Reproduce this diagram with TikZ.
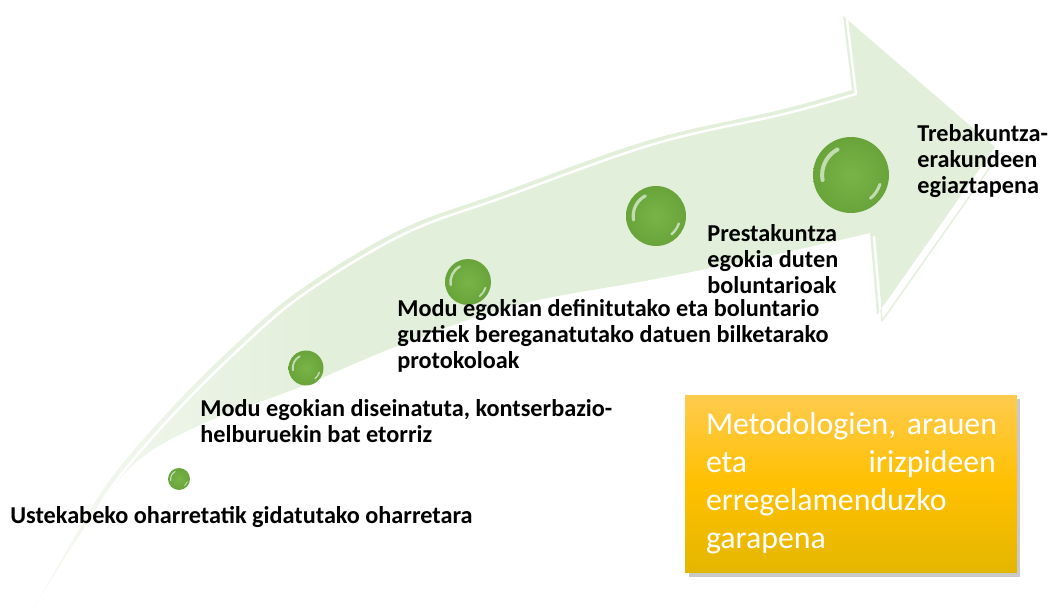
\documentclass[tikz,border=0pt]{standalone}
\usepackage{fontspec}
\setmainfont{Carlito}
\usetikzlibrary{shadows}
\definecolor{arrowgreen}{HTML}{E2EFDA}
\definecolor{arrowpale}{HTML}{F5F9F2}
\definecolor{ballgreen}{HTML}{68A43A}
\definecolor{ballhi}{HTML}{78B447}
\definecolor{boxtop}{HTML}{FFCB4F}
\definecolor{boxmid}{HTML}{FFC000}
\definecolor{boxbot}{HTML}{E4B600}
\pgfdeclarehorizontalshading{arrowfade}{100bp}{color(0bp)=(arrowpale); color(25bp)=(arrowpale); color(40bp)=(arrowgreen); color(100bp)=(arrowgreen)}
\tikzset{
	ball/.style={circle, inner sep=0pt, shade, inner color=ballhi, outer color=ballgreen},
	glint/.style={white, opacity=.6, line cap=round},
	steplabel/.style={anchor=north west, inner sep=0pt, align=left, font=\bfseries\fontsize{13.8}{14.7}\selectfont, execute at begin node=\strut},
	goalbox/.style={minimum width=6.64cm, minimum height=3.56cm, text width=5.8cm, align=left, inner sep=0pt, text=white,
		top color=boxtop, bottom color=boxbot, middle color=boxmid,
		drop shadow={shadow xshift=2pt, shadow yshift=-2.5pt, opacity=.3, fill=black!70},
		font=\fontsize{18.1}{21.7}\selectfont, execute at begin node=\strut, execute at end node=\strut}
}
\begin{document}
\begin{tikzpicture}[x=0.02cm, y=0.02cm, line join=round, line cap=round]
	\useasboundingbox (0,0) rectangle (1049,613);
	\def\arrowshape{(33,3) -- plot[smooth, tension=.6] coordinates {(33,3) (70,68) (110,133) (167,200) (233,266) (300,323) (400,383) (500,420) (650,473) (780,503) (852,523)}
		-- (843,597) -- (995,466) -- (877,298) -- (870,380)
		-- plot[smooth, tension=.6] coordinates {(870,380) (760,355) (650,333) (517,308) (400,268) (300,226) (200,188) (133,148) (83,83) (33,3)} -- cycle}
	% pfeil
	\shade[shading=arrowfade] \arrowshape;
	\draw[arrowgreen, line width=.8pt, shift={(5,-6)}] (870,380) -- (877,298) -- (995,466);
	\begin{scope}
		\clip \arrowshape;
		\draw[white, line width=1.4pt, shift={(4,-4)}] plot[smooth, tension=.6] coordinates {(33,3) (70,68) (110,133) (167,200) (233,266) (300,323) (400,383) (500,420) (650,473) (780,503) (852,523)} -- (843,597);
		\draw[white, line width=1.4pt, shift={(4,-4)}] (870,380) -- (877,298);
	\end{scope}
	% bolak
	\foreach \n/\x/\y/\r in {1/179/134/11, 2/306/245/17.5, 3/468/331/23, 4/656/397/30, 5/851/438/38}{
		\node[ball, minimum size=\r*0.04cm] (b\n) at (\x,\y) {};
		\draw[glint, line width=\r*0.06pt] (b\n.center) ++(118:0.76*\r) arc[start angle=118, end angle=190, radius=0.76*\r];
		\draw[glint, line width=\r*0.045pt] (b\n.center) ++(-50:0.8*\r) arc[start angle=-50, end angle=-18, radius=0.8*\r];
	}
	% testuak
	\node[steplabel] (t1) at (10,108) {Ustekabeko oharretatik gidatutako oharretara};
	\node[steplabel] (t2) at (200,214) {Modu egokian diseinatuta, kontserbazio-\\helburuekin bat etorriz};
	\node[steplabel] (t3) at (397,314) {Modu egokian definitutako eta boluntario\\guztiek bereganatutako datuen bilketarako\\protokoloak};
	\node[steplabel] (t4) at (707,389) {Prestakuntza\\egokia duten\\boluntarioak};
	\node[steplabel] (t5) at (917,489) {Trebakuntza-\\erakundeen\\egiaztapena};
	\node[goalbox] (goal) at (851,129) {\mbox{Metodologien, arauen}\\eta\hspace{0pt plus 1fill}irizpideen\\erregelamenduzko\\garapena};
\end{tikzpicture}
\end{document}
